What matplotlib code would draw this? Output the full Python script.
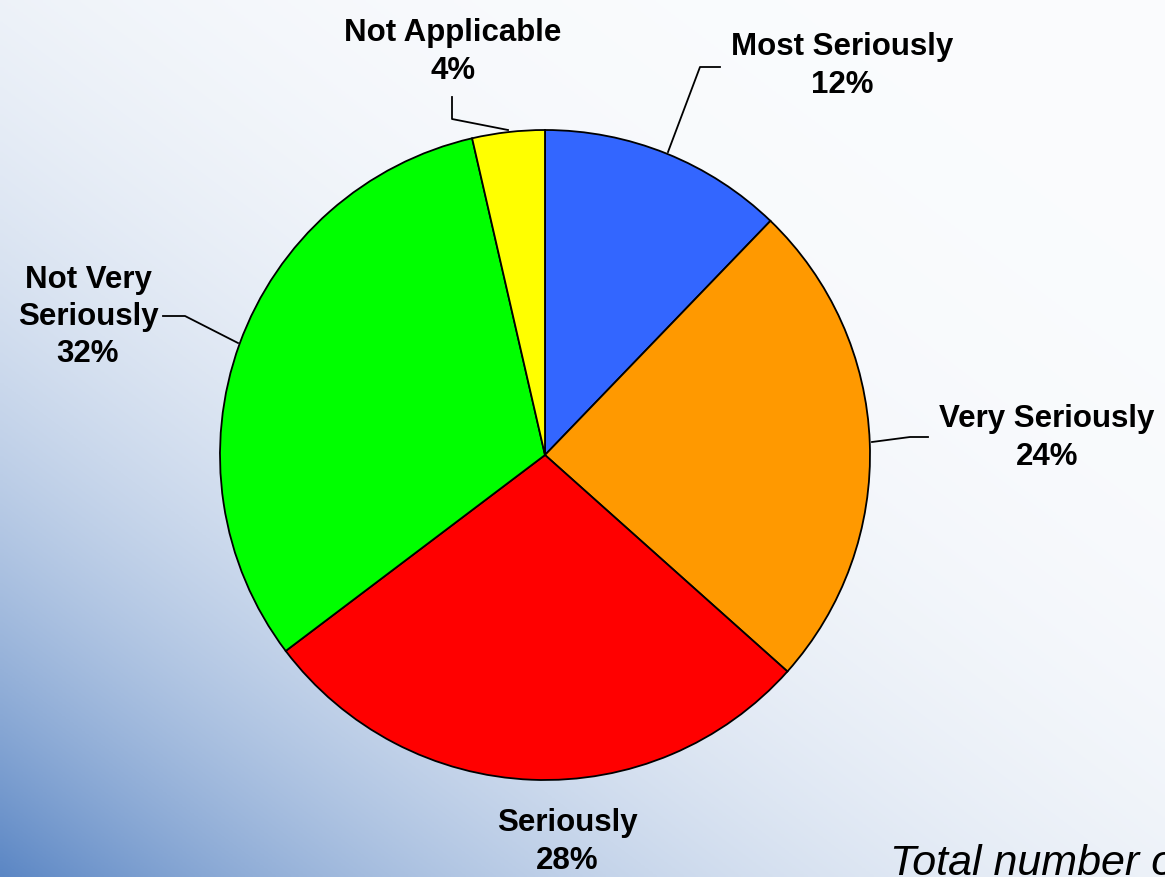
import matplotlib.pyplot as plt
import numpy as np

labels = ["Most Seriously", "Very Seriously", "Seriously", "Not Very\nSeriously", "Not Applicable"]
values = [12.2, 24.4, 28.1, 31.7, 3.6]
colors = ["#3366FF", "#FF9900", "#FF0000", "#00FF00", "#FFFF00"]
note = "Total number of respondents"

W, H = 1165, 877
CX, CY, R = 545, 455, 325


def to_data(px, py):
    return (px - CX) / R, (CY - py) / R


def main():
    plt.rcParams['font.family'] = ['Liberation Sans', 'DejaVu Sans']
    fig = plt.figure(figsize=(W / 100, H / 100), dpi=100)

    # background gradient: blue at bottom-left fading to white at top-right
    bg = fig.add_axes([0, 0, 1, 1])
    xs = np.linspace(0, 1, 300)
    ys = np.linspace(0, 1, 300)
    X, Y = np.meshgrid(xs, ys)
    d = ((1 - X) + (1 - Y)) / 2
    t = np.clip(d, 0, 1) ** 3.6 + 0.03
    white = np.array([1.0, 1.0, 1.0])
    blue = np.array([0x60, 0x8A, 0xC6]) / 255
    img = white[None, None, :] * (1 - t[..., None]) + blue[None, None, :] * t[..., None]
    bg.imshow(np.clip(img, 0, 1), origin="lower", extent=[0, 1, 0, 1], aspect="auto")
    bg.axis("off")

    ax = fig.add_axes([(CX - R) / W, (H - CY - R) / H, 2 * R / W, 2 * R / H])
    ax.pie(values, colors=colors, startangle=90, counterclock=False,
           wedgeprops=dict(edgecolor="black", linewidth=1.3))
    ax.set_xlim(-1, 1)
    ax.set_ylim(-1, 1)
    ax.axis("off")

    # label block centres and leader lines, in pixels
    spots = [(842, 66), (1047, 438), (567, 842), (88, 317), (453, 52)]
    leaders = [
        [(668, 152), (700, 67), (720, 67)],
        [(872, 442), (910, 437), (928, 437)],
        None,
        [(238, 343), (185, 316), (163, 316)],
        [(508, 130), (452, 119), (452, 97)],
    ]
    for lab, val, spot, lead in zip(labels, values, spots, leaders):
        x, y = to_data(*spot)
        ax.text(x, y, "{}\n{:.0f}%".format(lab, val), ha="center", va="center",
                fontsize=22.5, fontweight="bold", linespacing=1.32, clip_on=False)
        if lead:
            pts = np.array([to_data(*p) for p in lead])
            ax.plot(pts[:, 0], pts[:, 1], color="black", linewidth=1.3, clip_on=False)

    fig.text(890 / W, 1 - 875 / H, note, fontsize=31, fontstyle="italic",
             ha="left", va="baseline")

    fig.savefig("out.png", dpi=100)
    plt.close()


main()
